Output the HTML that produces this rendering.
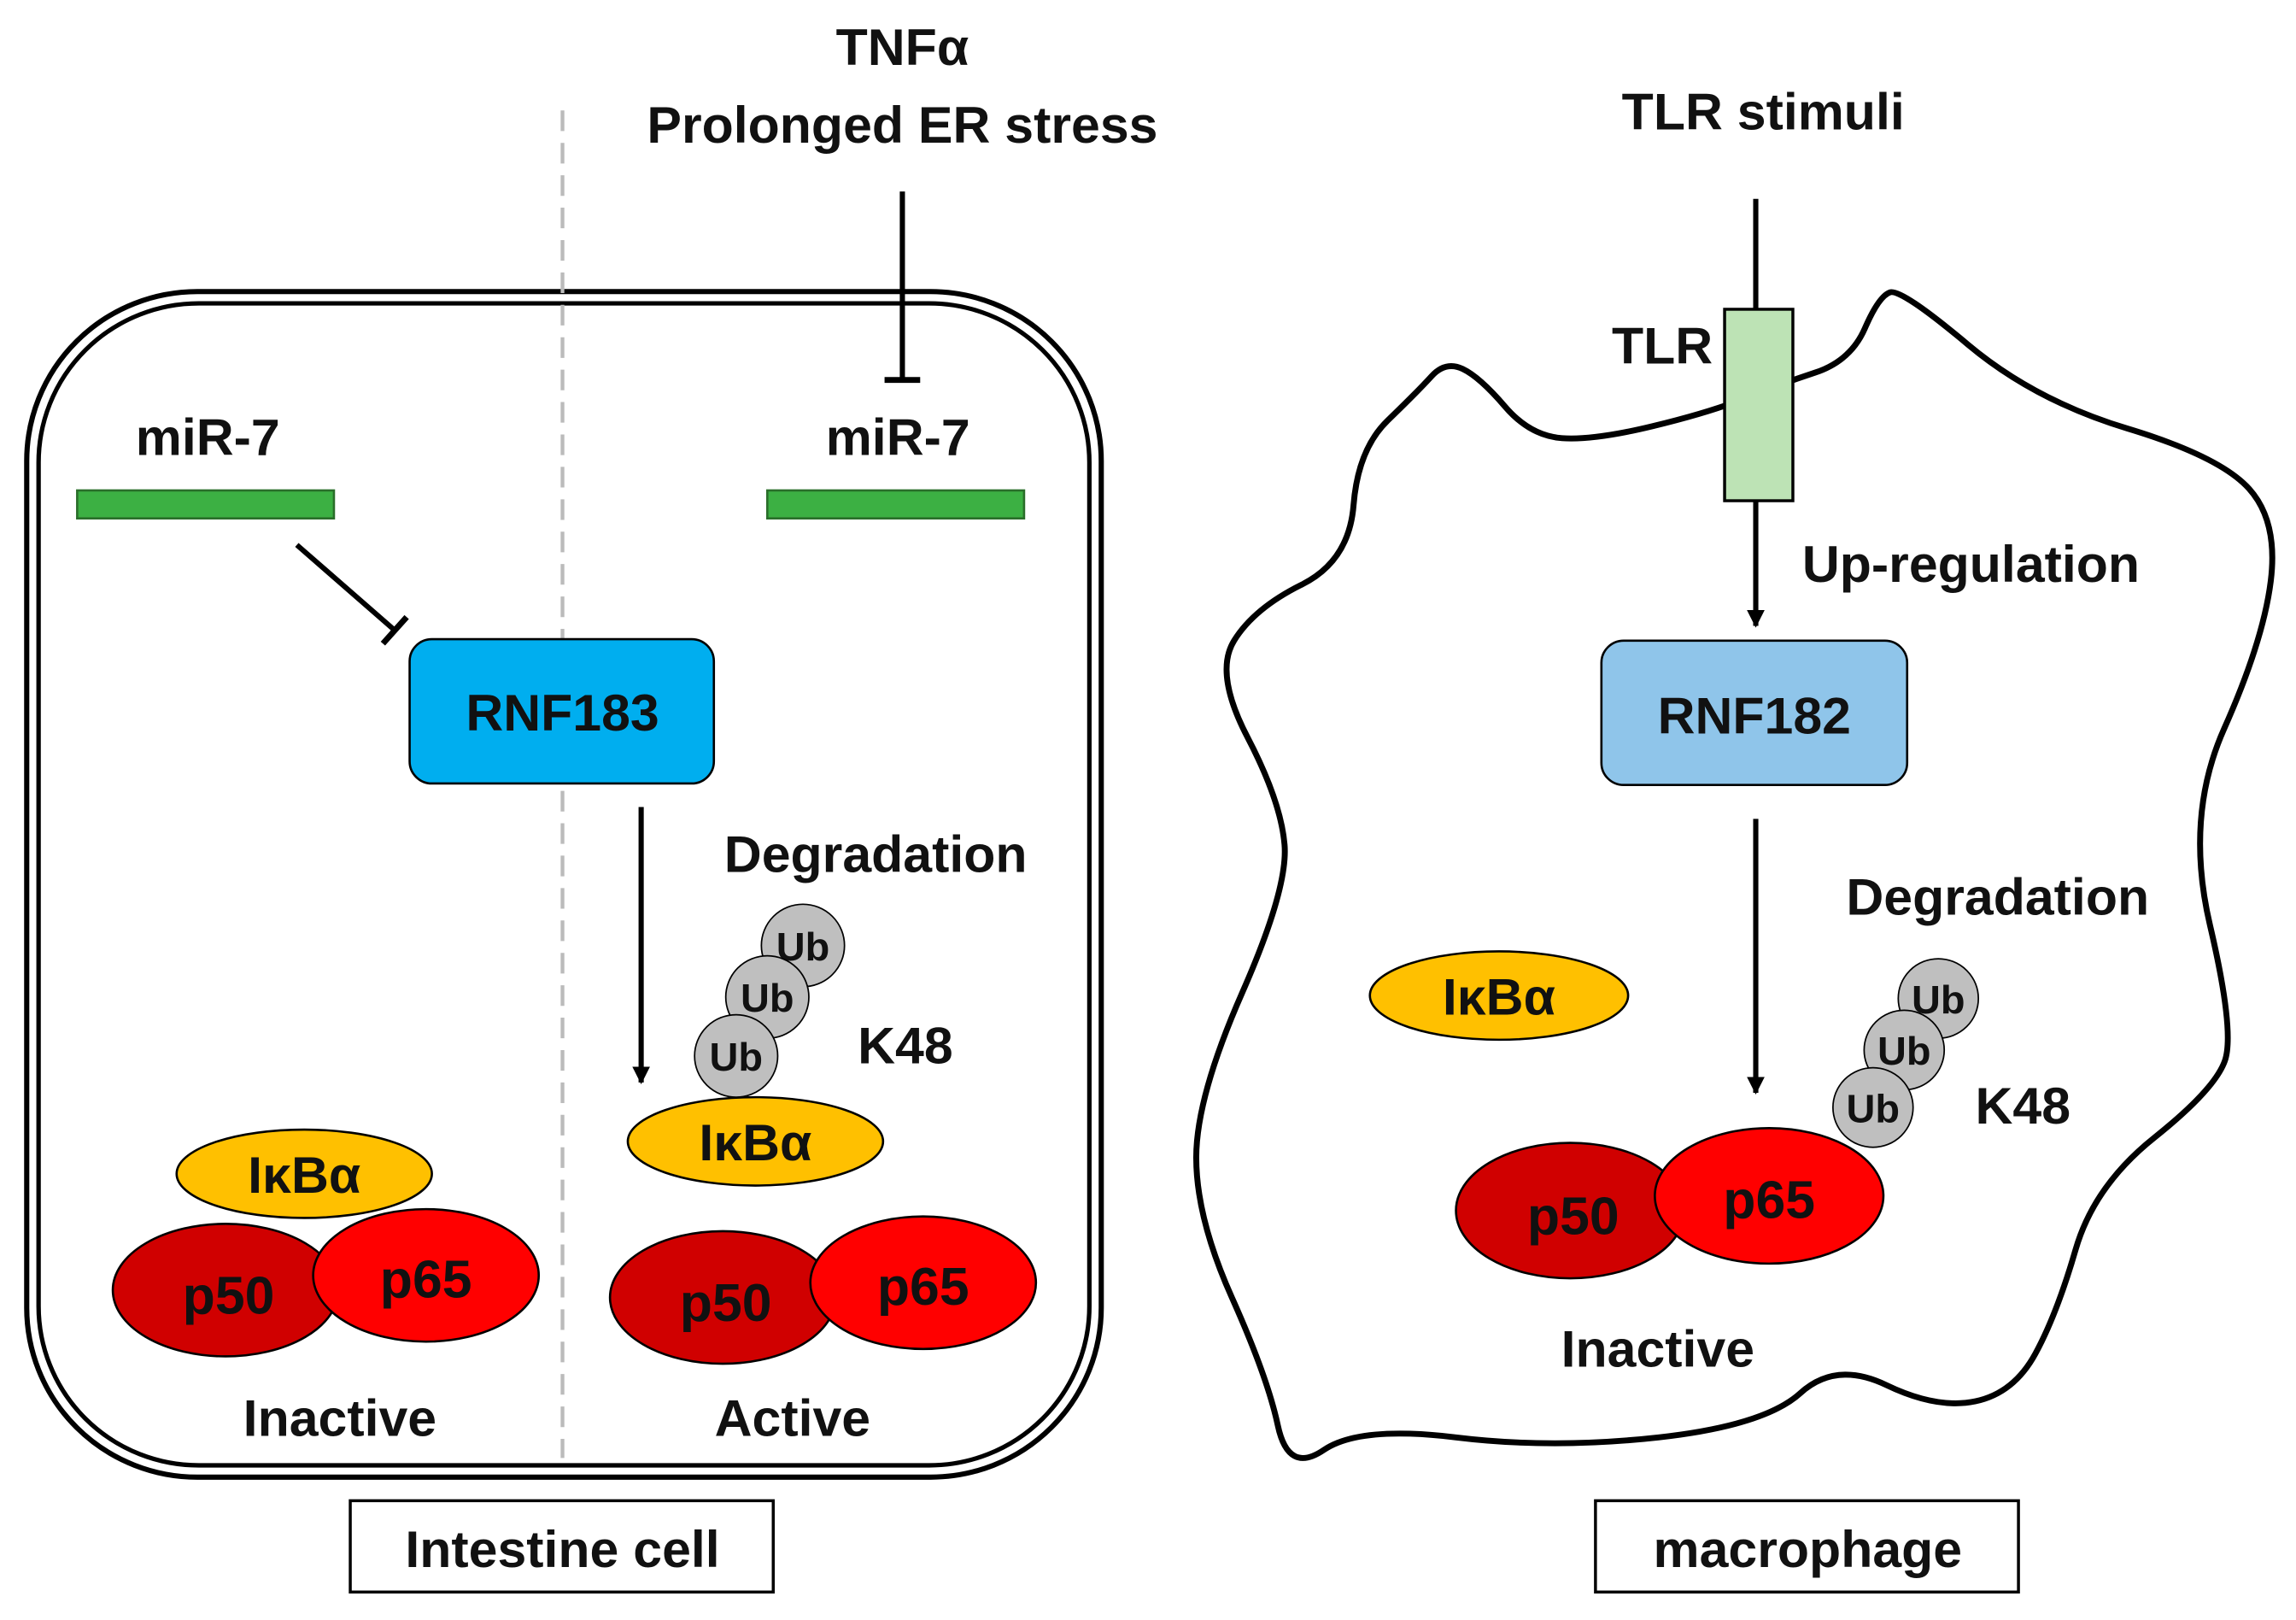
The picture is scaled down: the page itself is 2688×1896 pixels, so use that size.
<!DOCTYPE html>
<html><head><meta charset="utf-8"><style>
html,body{margin:0;padding:0;background:#fff;}
svg{display:block;}
text{font-family:"Liberation Sans",sans-serif;font-weight:bold;fill:#111;text-anchor:middle;}
</style></head><body>
<svg width="2688" height="1896" viewBox="0 0 1547 1100" preserveAspectRatio="none" xmlns="http://www.w3.org/2000/svg">
<defs>
<marker id="ah" viewBox="0 0 10 10" refX="9" refY="5" markerWidth="12" markerHeight="14" orient="auto" markerUnits="userSpaceOnUse">
<path d="M0,0 L10,5 L0,10 z" fill="#000"/></marker>
</defs>
<!-- Intestine cell -->
<rect x="18" y="198" width="724" height="805" rx="115" fill="none" stroke="#000" stroke-width="3.5"/>
<rect x="26" y="206" width="708" height="789" rx="108" fill="none" stroke="#000" stroke-width="3"/>
<line x1="379" y1="75" x2="379" y2="990" stroke="#bbb" stroke-width="2.5" stroke-dasharray="14,8"/>
<text x="608" y="44" font-size="35">TNFα</text>
<text x="608" y="97" font-size="35">Prolonged ER stress</text>
<line x1="608" y1="130" x2="608" y2="258" stroke="#000" stroke-width="3.5"/>
<line x1="596" y1="258" x2="620" y2="258" stroke="#000" stroke-width="4"/>
<text x="140" y="309" font-size="35">miR-7</text>
<rect x="52" y="333" width="173" height="19" fill="#3cb043" stroke="#2a6e2a" stroke-width="1.5"/>
<text x="605" y="309" font-size="35">miR-7</text>
<rect x="517" y="333" width="173" height="19" fill="#3cb043" stroke="#2a6e2a" stroke-width="1.5"/>
<line x1="200" y1="370" x2="266" y2="428" stroke="#000" stroke-width="3.5"/>
<line x1="258" y1="437" x2="274" y2="419" stroke="#000" stroke-width="4"/>
<rect x="276" y="434" width="205" height="98" rx="15" fill="#00aeef" stroke="#000" stroke-width="1.5"/>
<text x="379" y="496" font-size="35">RNF183</text>
<line x1="432" y1="548" x2="432" y2="735" stroke="#000" stroke-width="3.5" marker-end="url(#ah)"/>
<text x="590" y="592" font-size="35">Degradation</text>
<circle cx="541" cy="642" r="28" fill="#bfbfbf" stroke="#000" stroke-width="1"/>
<text x="541" y="652" font-size="27">Ub</text>
<circle cx="517" cy="677" r="28" fill="#bfbfbf" stroke="#000" stroke-width="1"/>
<text x="517" y="687" font-size="27">Ub</text>
<circle cx="496" cy="717" r="28" fill="#bfbfbf" stroke="#000" stroke-width="1"/>
<text x="496" y="727" font-size="27">Ub</text>
<text x="610" y="722" font-size="35">K48</text>
<ellipse cx="509" cy="775" rx="86" ry="30" fill="#ffc000" stroke="#000" stroke-width="1.5"/>
<text x="509" y="788" font-size="35">IκBα</text>
<ellipse cx="205" cy="797" rx="86" ry="30" fill="#ffc000" stroke="#000" stroke-width="1.5"/>
<text x="205" y="810" font-size="35">IκBα</text>
<ellipse cx="152" cy="876" rx="76" ry="45" fill="#d00000" stroke="#000" stroke-width="1.5"/>
<ellipse cx="287" cy="866" rx="76" ry="45" fill="#ff0000" stroke="#000" stroke-width="1.5"/>
<text x="154" y="892" font-size="36">p50</text>
<text x="287" y="881" font-size="36">p65</text>
<ellipse cx="487" cy="881" rx="76" ry="45" fill="#d00000" stroke="#000" stroke-width="1.5"/>
<ellipse cx="622" cy="871" rx="76" ry="45" fill="#ff0000" stroke="#000" stroke-width="1.5"/>
<text x="489" y="897" font-size="36">p50</text>
<text x="622" y="886" font-size="36">p65</text>
<text x="229" y="975" font-size="35">Inactive</text>
<text x="534" y="975" font-size="35">Active</text>
<rect x="236" y="1019" width="285" height="62" fill="#fff" stroke="#000" stroke-width="2"/>
<text x="379" y="1064" font-size="35">Intestine cell</text>

<!-- Macrophage -->
<path id="mem" fill="none" stroke="#000" stroke-width="4" stroke-linejoin="round"/>
<text x="1188" y="88" font-size="35">TLR stimuli</text>
<line x1="1183" y1="135" x2="1183" y2="212" stroke="#000" stroke-width="3.5"/>
<line x1="1183" y1="340" x2="1183" y2="425" stroke="#000" stroke-width="3.5" marker-end="url(#ah)"/>
<rect x="1162" y="210" width="46" height="130" fill="#bde3b5" stroke="#000" stroke-width="2"/>
<text x="1120" y="247" font-size="35">TLR</text>
<text x="1328" y="395" font-size="35">Up-regulation</text>
<rect x="1079" y="435" width="206" height="98" rx="15" fill="#8fc5ea" stroke="#000" stroke-width="1.5"/>
<text x="1182" y="498" font-size="35">RNF182</text>
<line x1="1183" y1="556" x2="1183" y2="742" stroke="#000" stroke-width="3.5" marker-end="url(#ah)"/>
<text x="1346" y="621" font-size="35">Degradation</text>
<circle cx="1306" cy="678" r="27" fill="#bfbfbf" stroke="#000" stroke-width="1"/>
<text x="1306" y="688" font-size="27">Ub</text>
<circle cx="1283" cy="713" r="27" fill="#bfbfbf" stroke="#000" stroke-width="1"/>
<text x="1283" y="723" font-size="27">Ub</text>
<circle cx="1262" cy="752" r="27" fill="#bfbfbf" stroke="#000" stroke-width="1"/>
<text x="1262" y="762" font-size="27">Ub</text>
<text x="1363" y="763" font-size="35">K48</text>
<ellipse cx="1010" cy="676" rx="87" ry="30" fill="#ffc000" stroke="#000" stroke-width="1.5"/>
<text x="1010" y="689" font-size="35">IκBα</text>
<ellipse cx="1058" cy="822" rx="77" ry="46" fill="#d00000" stroke="#000" stroke-width="1.5"/>
<ellipse cx="1192" cy="812" rx="77" ry="46" fill="#ff0000" stroke="#000" stroke-width="1.5"/>
<text x="1060" y="838" font-size="36">p50</text>
<text x="1192" y="827" font-size="36">p65</text>
<text x="1117" y="928" font-size="35">Inactive</text>
<rect x="1075" y="1019" width="285" height="62" fill="#fff" stroke="#000" stroke-width="2"/>
<text x="1218" y="1064" font-size="35">macrophage</text>
</svg>
<script>
var P=[[1199,261],[1247,245],[1266,201],[1281,196],[1371,272],[1496,310],[1535,354],[1525,435],[1472,555],[1506,701],[1492,740],[1411,805],[1386,892],[1357,946],[1305,957],[1237,924],[1189,968],[1046,984],[916,968],[868,1001],[854,935],[806,827],[806,745],[868,603],[863,544],[818,457],[845,413],[909,381],[915,305],[955,266],[974,245],[997,256],[1031,296],[1074,299],[1152,280]];
var n=P.length,d="";
function m(a,b){return [(a[0]+b[0])/2,(a[1]+b[1])/2];}
var s=m(P[n-1],P[0]);d="M"+s[0]+","+s[1];
for(var i=0;i<n;i++){var q=m(P[i],P[(i+1)%n]);d+=" Q"+P[i][0]+","+P[i][1]+" "+q[0]+","+q[1];}
d+="Z";
document.getElementById("mem").setAttribute("d",d);
</script>
</body></html>
